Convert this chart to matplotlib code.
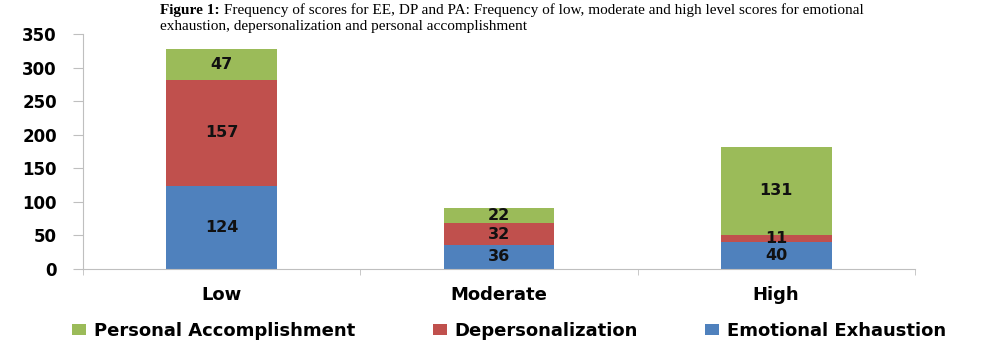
import matplotlib.pyplot as plt
import numpy as np

# Score levels and frequencies for each burnout subscale
levels = ['Low', 'Moderate', 'High']
emotional_exhaustion = [124, 36, 40]
depersonalization = [157, 32, 11]
personal_accomplishment = [47, 22, 131]

series = [
    ('Emotional Exhaustion', emotional_exhaustion, '#4F81BD'),
    ('Depersonalization', depersonalization, '#C0504D'),
    ('Personal Accomplishment', personal_accomplishment, '#9BBB59'),
]

fig = plt.figure(figsize=(10.03, 3.43), dpi=100)
ax = fig.add_axes([0.083, 0.216, 0.829, 0.685])

x = np.arange(len(levels))
bottom = np.zeros(len(levels))
handles = {}
for name, vals, color in series:
    vals = np.array(vals, dtype=float)
    bars = ax.bar(x, vals, width=0.4, bottom=bottom, color=color, edgecolor='none')
    handles[name] = bars
    for xi, b, v in zip(x, bottom, vals):
        ax.text(xi, b + v / 2, f'{int(v)}', ha='center', va='center',
                fontsize=11.5, fontweight='bold', color='#111111')
    bottom += vals

ax.set_xlim(-0.5, 2.5)
ax.set_ylim(0, 350)
ax.set_yticks(np.arange(0, 351, 50))
ax.set_xticks(x)
ax.set_xticklabels(levels)
ax.set_xticks([-0.5, 0.5, 1.5, 2.5], minor=True)

for s in ['top', 'right']:
    ax.spines[s].set_visible(False)
for s in ['left', 'bottom']:
    ax.spines[s].set_color('#BFBFBF')
ax.tick_params(axis='y', length=7, color='#BFBFBF', pad=12, labelsize=12)
ax.tick_params(axis='x', which='major', length=0, pad=12, labelsize=13)
ax.tick_params(axis='x', which='minor', length=4, color='#BFBFBF')
for lbl in ax.get_xticklabels() + ax.get_yticklabels():
    lbl.set_fontweight('bold')

# Caption above the chart
t1 = fig.text(0.16, 0.958, 'Figure 1:', fontsize=11, fontweight='bold',
              family='Liberation Serif', va='baseline')
ax.annotate(' Frequency of scores for EE, DP and PA: Frequency of low, moderate and high level scores for emotional',
            xy=(1, 0), xycoords=t1, va='bottom', ha='left', fontsize=11,
            family='Liberation Serif', annotation_clip=False)
fig.text(0.16, 0.913, 'exhaustion, depersonalization and personal accomplishment',
         fontsize=11, family='Liberation Serif', va='baseline')

# One legend entry per column, placed along the bottom
entries = [('Personal Accomplishment', 72), ('Depersonalization', 433), ('Emotional Exhaustion', 705)]
for name, px in entries:
    leg = fig.legend([handles[name]], [name], loc='center left',
                     bbox_to_anchor=(px / 1003, 0.036), frameon=False,
                     prop={'weight': 'bold', 'size': 13}, handlelength=0.75,
                     handleheight=0.55, handletextpad=0.45, borderpad=0,
                     borderaxespad=0)

fig.savefig('out.png', dpi=100)
